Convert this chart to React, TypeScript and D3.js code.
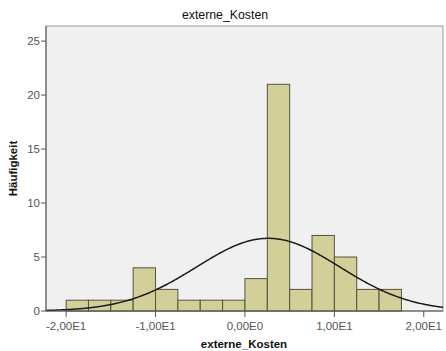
import React from "react";
import * as d3 from "d3";

// Histogram of externe_Kosten (bin width 2.5) with fitted normal curve
const binStarts = [-20, -17.5, -15, -12.5, -10, -7.5, -5, -2.5, 0, 2.5, 5, 7.5, 10, 12.5, 15];
const counts = [1, 1, 1, 4, 2, 1, 1, 1, 3, 21, 2, 7, 5, 2, 2];
const binWidth = 2.5;
const curveMean = 2.6;
const curveSd = 8.0;
const xTicks = [-20, -10, 0, 10, 20];
const xTickLabels = ["-2,00E1", "-1,00E1", "0,00E0", "1,00E1", "2,00E1"];
const yTicks = [0, 5, 10, 15, 20, 25];

const W = 446;
const H = 351;
const plot = { left: 46, top: 26, right: 443, bottom: 311 };
const FONT = "'Liberation Sans', Arial, sans-serif";

export default function App() {
  const x = d3.scaleLinear().domain([-22.25, 22.15]).range([plot.left, plot.right]);
  const y = d3.scaleLinear().domain([0, 26.4]).range([plot.bottom, plot.top]);

  const n = d3.sum(counts);
  const density = (v: number) =>
    (n * binWidth) / (curveSd * Math.sqrt(2 * Math.PI)) *
    Math.exp(-0.5 * ((v - curveMean) / curveSd) ** 2);
  const curvePts = d3.range(0, 401).map((i) => {
    const v = x.invert(plot.left + ((plot.right - plot.left) * i) / 400);
    return [v, density(v)] as [number, number];
  });
  const line = d3
    .line<[number, number]>()
    .x((d) => x(d[0]))
    .y((d) => y(d[1]))
    .curve(d3.curveBasis);

  return (
    <svg width={W} height={H} style={{ position: "absolute", left: 0, top: 0, background: "#fff" }}>
      <rect x={0} y={0} width={W} height={H} fill="#fff" />
      <text x={225} y={19} textAnchor="middle" fontFamily={FONT} fontSize={12.3} fill="#111">
        externe_Kosten
      </text>
      <rect
        x={plot.left}
        y={plot.top}
        width={plot.right - plot.left}
        height={plot.bottom - plot.top}
        fill="#f0f0f0"
        stroke="#9a9a9a"
        strokeWidth={1}
      />
      {counts.map((c, i) => (
        <rect
          key={i}
          x={x(binStarts[i])}
          y={y(c)}
          width={x(binStarts[i] + binWidth) - x(binStarts[i])}
          height={y(0) - y(c)}
          fill="#d3cf98"
          stroke="#55533f"
          strokeWidth={1}
        />
      ))}
      <path d={line(curvePts) || ""} fill="none" stroke="#1a1a1a" strokeWidth={1.5} />
      {/* axes */}
      <line x1={plot.left} x2={plot.left} y1={plot.top} y2={plot.bottom} stroke="#555" />
      <line x1={plot.left} x2={plot.right} y1={plot.bottom} y2={plot.bottom} stroke="#555" />
      {yTicks.map((t) => (
        <g key={t}>
          <line x1={plot.left - 5} x2={plot.left} y1={y(t)} y2={y(t)} stroke="#555" />
          <text x={plot.left - 6} y={y(t) + 4} textAnchor="end" fontFamily={FONT} fontSize={11.5} fill="#555">
            {t}
          </text>
        </g>
      ))}
      {xTicks.map((t, i) => (
        <g key={t}>
          <line x1={x(t)} x2={x(t)} y1={plot.bottom} y2={plot.bottom + 6} stroke="#555" />
          <text x={x(t)} y={330} textAnchor="middle" fontFamily={FONT} fontSize={11.5} fill="#555">
            {xTickLabels[i]}
          </text>
        </g>
      ))}
      <text x={244} y={348} textAnchor="middle" fontFamily={FONT} fontSize={11.5} fontWeight="bold" fill="#111">
        externe_Kosten
      </text>
      <text
        transform={`translate(17,168.5) rotate(-90)`}
        textAnchor="middle"
        fontFamily={FONT}
        fontSize={11.5}
        fontWeight="bold"
        fill="#111"
      >
        Häufigkeit
      </text>
    </svg>
  );
}
